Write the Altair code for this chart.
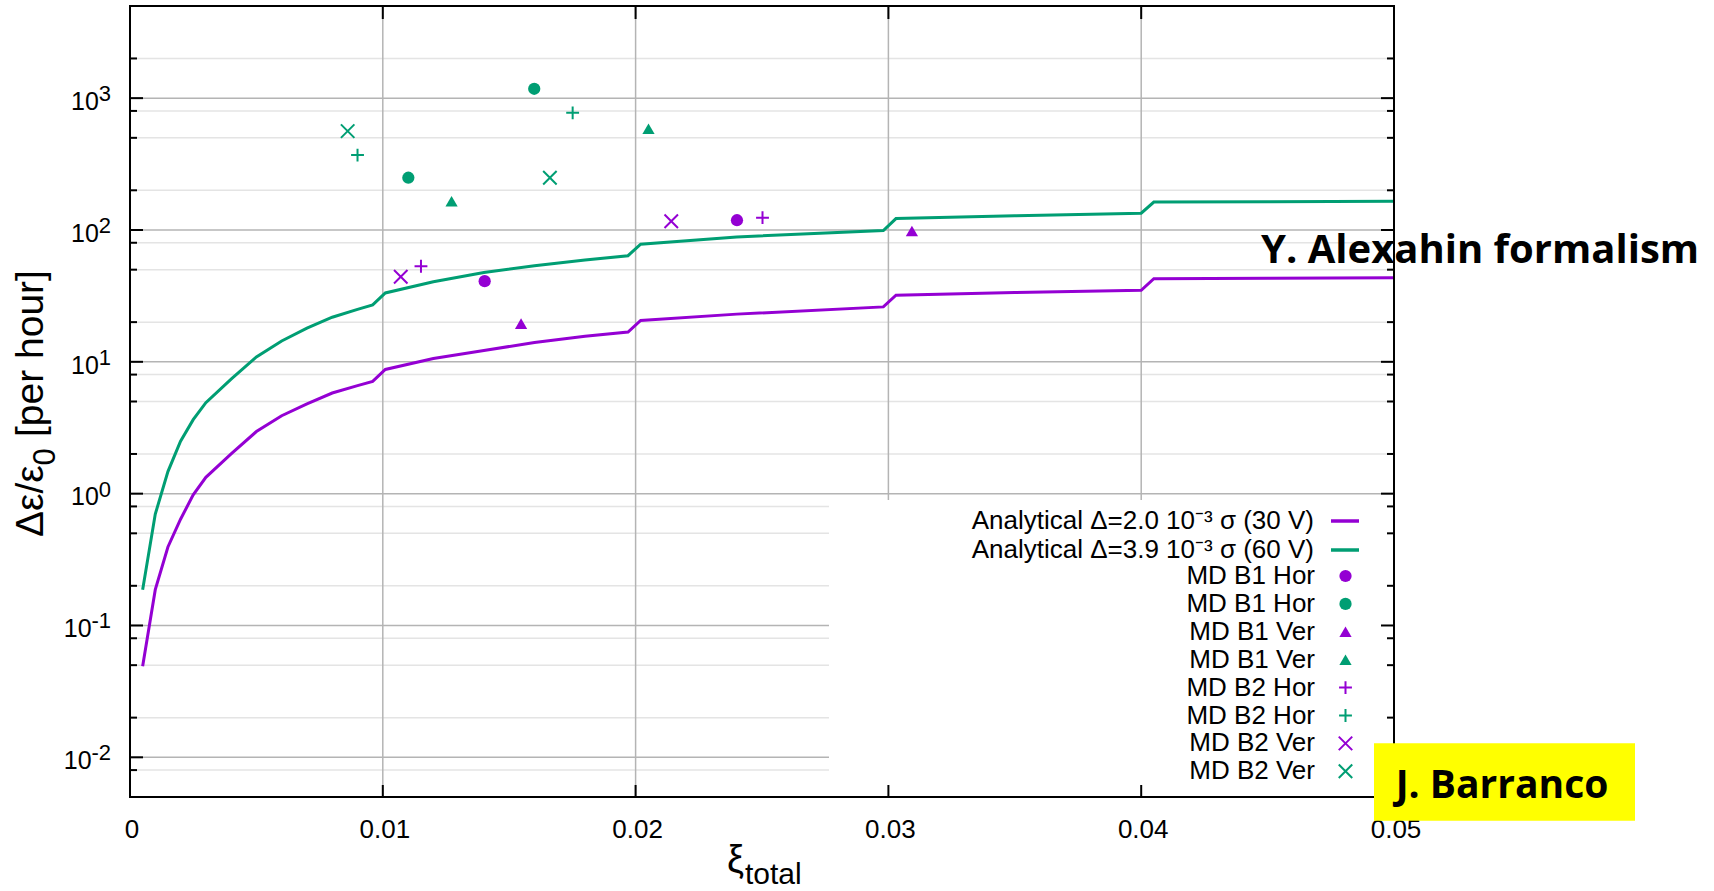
import altair as alt
import pandas as pd

# ---------------- values ----------------
# analytical curves
curve_x = [0.0005, 0.001, 0.0015, 0.002, 0.0025, 0.003, 0.004, 0.005, 0.006, 0.007,
           0.008, 0.009, 0.0096, 0.0101, 0.012, 0.014, 0.016, 0.018, 0.0197, 0.0202,
           0.024, 0.0298, 0.0303, 0.035, 0.0400, 0.0405, 0.045, 0.050]
curve_30v = [0.049, 0.187, 0.394, 0.64, 0.98, 1.33, 2.0, 2.96, 3.9, 4.8,
             5.8, 6.6, 7.1, 8.75, 10.6, 12.2, 14.0, 15.6, 16.8, 20.6,
             23.0, 26.1, 32.0, 33.5, 34.9, 42.7, 43.0, 43.4]
curve_60v = [0.187, 0.70, 1.47, 2.5, 3.64, 4.9, 7.4, 10.9, 14.4, 18.0,
             21.8, 25.0, 27.0, 33.3, 40.5, 47.6, 53.5, 59.3, 63.8, 78.0,
             88.5, 99.0, 122.0, 128.0, 134.0, 163.0, 164.0, 165.0]
curve_names = ["Analytical \u0394=2.0 10\u207b\u00b3 \u03c3 (30 V)",
               "Analytical \u0394=3.9 10\u207b\u00b3 \u03c3 (60 V)"]

# MD measurements (label|variant)
md_keys = ["MD B1 Hor|1", "MD B1 Hor|2", "MD B1 Ver|1", "MD B1 Ver|2",
           "MD B2 Hor|1", "MD B2 Hor|2", "MD B2 Ver|1", "MD B2 Ver|2"]
md_x = [[0.01403, 0.02401], [0.01101, 0.01599], [0.01547, 0.03093], [0.01272, 0.02051],
        [0.01151, 0.02502], [0.00900, 0.01751], [0.01071, 0.02141], [0.00861, 0.01661]]
md_y = [[40.9, 118.6], [249.0, 1178.0], [19.5, 98.3], [165.0, 586.0],
        [53.1, 124.0], [370.0, 774.0], [44.2, 116.6], [562.0, 249.0]]

# axes
x_ticks = [0, 0.01, 0.02, 0.03, 0.04, 0.05]
x_tick_labels = ["0", "0.01", "0.02", "0.03", "0.04", "0.05"]
x_grid = [0.01, 0.02, 0.03, 0.04]
y_decades = [0.01, 0.1, 1, 10, 100, 1000]
y_exponents = ["-2", "-1", "0", "1", "2", "3"]
y_minor = [0.008, 0.02, 0.05, 0.08, 0.2, 0.5, 0.8, 2, 5, 8, 20, 50, 80,
           200, 500, 800, 2000]

# ---------------- styling ----------------
W, H = 1264, 791
PURPLE, GREEN = "#9400D3", "#009E73"
FONT = "Liberation Sans"
BOLD = "Open Sans"
PLUS = "M-1.05,0L1.05,0M0,-1.05L0,1.05"
CROSS = "M-1.1,-1.1L1.1,1.1M-1.1,1.1L1.1,-1.1"

xscale = alt.Scale(domain=[0, 0.05], nice=False, zero=False)
yscale = alt.Scale(type="log", domain=[0.005, 5000], nice=False)

n = len(curve_x)
curve_df = pd.DataFrame({
    "x": curve_x + curve_x,
    "y": curve_30v + curve_60v,
    "curve": [curve_names[0]] * n + [curve_names[1]] * n,
})
md_rows = []
for k, xs, ys in zip(md_keys, md_x, md_y):
    for a, b in zip(xs, ys):
        md_rows.append({"x": a, "y": b, "series": k})
md_df = pd.DataFrame(md_rows)

one = pd.DataFrame({"a": [0]})


def yrule(vals, color, w, x0=None, x1=None):
    enc = {"y": alt.Y("v:Q", scale=yscale, axis=None)}
    if x0 is not None:
        enc["x"] = alt.value(x0)
        enc["x2"] = alt.value(x1)
    return alt.Chart(pd.DataFrame({"v": vals})).mark_rule(color=color, strokeWidth=w).encode(**enc)


def xrule(vals, color, w, y0=None, y1=None):
    enc = {"x": alt.X("v:Q", scale=xscale, axis=None)}
    if y0 is not None:
        enc["y"] = alt.value(y0)
        enc["y2"] = alt.value(y1)
    return alt.Chart(pd.DataFrame({"v": vals})).mark_rule(color=color, strokeWidth=w).encode(**enc)


def text(t, x, y, size, font=FONT, **kw):
    return alt.Chart(pd.DataFrame({"t": [t]})).mark_text(
        font=font, fontSize=size, color="black", **kw
    ).encode(text="t:N", x=alt.value(x), y=alt.value(y))


grid_minor = yrule(y_minor, "#e4e4e4", 1.5)
grid_major = yrule(y_decades, "#b4b4b4", 1.5)
grid_x = xrule(x_grid, "#b4b4b4", 1.5)

legend_box = alt.Chart(one).mark_rect(fill="white").encode(
    x=alt.value(699), x2=alt.value(W - 1), y=alt.value(494), y2=alt.value(H - 1))

lines = alt.Chart(curve_df).mark_line(strokeWidth=3).encode(
    x=alt.X("x:Q", scale=xscale, axis=None),
    y=alt.Y("y:Q", scale=yscale, axis=None),
    color=alt.Color("curve:N", scale=alt.Scale(domain=curve_names, range=[PURPLE, GREEN]),
                    legend=alt.Legend(
                        orient="none", legendX=1199, legendY=499, title=None,
                        symbolType="stroke", symbolStrokeWidth=3.5, symbolSize=784,
                        labelAlign="right", labelOffset={"expr": "-47"}, labelLimit=600,
                        labelFont=FONT, labelFontSize=26, labelColor="black",
                        rowPadding=0, padding=0)),
)

pt_legend = alt.Legend(
    orient="none", legendX=1202.5, legendY=557, title=None,
    labelExpr="split(datum.value, '|')[0]", symbolSize=150, symbolStrokeWidth=2,
    labelAlign="right", labelOffset={"expr": "-43.5"}, labelLimit=600,
    labelFont=FONT, labelFontSize=26, labelColor="black", rowPadding=1.9, padding=0)

points = alt.Chart(md_df).mark_point(size=150, strokeWidth=2, opacity=1).encode(
    x=alt.X("x:Q", scale=xscale, axis=None),
    y=alt.Y("y:Q", scale=yscale, axis=None),
    shape=alt.Shape("series:N", scale=alt.Scale(
        domain=md_keys,
        range=["circle", "circle", "triangle-up", "triangle-up", PLUS, PLUS, CROSS, CROSS]),
        legend=pt_legend),
    fill=alt.Fill("series:N", scale=alt.Scale(
        domain=md_keys,
        range=[PURPLE, GREEN, PURPLE, GREEN, "transparent", "transparent", "transparent", "transparent"]),
        legend=pt_legend),
    stroke=alt.Stroke("series:N", scale=alt.Scale(
        domain=md_keys,
        range=["transparent", "transparent", "transparent", "transparent", PURPLE, GREEN, PURPLE, GREEN]),
        legend=pt_legend),
)

ticks = [
    yrule(y_decades, "black", 2, 0, 13),
    yrule(y_minor, "black", 2, 0, 7),
    yrule(y_decades, "black", 2, W - 13, W),
    yrule(y_minor, "black", 2, W - 7, W),
    xrule(x_grid, "black", 2, 0, 13),
    xrule(x_grid, "black", 2, H - 12, H),
]

frame = alt.Chart(one).mark_rect(fill="transparent", stroke="black", strokeWidth=2).encode(
    x=alt.value(0), x2=alt.value(W), y=alt.value(0), y2=alt.value(H))

# tick labels (positioned through the scales)
xlab = alt.Chart(pd.DataFrame({"v": x_ticks, "lab": x_tick_labels})).mark_text(
    align="center", baseline="alphabetic", font=FONT, fontSize=26, color="black", dx=2
).encode(x=alt.X("v:Q", scale=xscale, axis=None), y=alt.value(838 - 6), text="lab:N")

ydf = pd.DataFrame({"v": y_decades, "e": y_exponents})
ten_pos = alt.Chart(ydf).transform_filter("datum.v >= 1").mark_text(
    align="right", baseline="alphabetic", font=FONT, fontSize=25, color="black", dy=11.8
).encode(y=alt.Y("v:Q", scale=yscale, axis=None), x=alt.value(-31.2), text=alt.value("10"))
ten_neg = alt.Chart(ydf).transform_filter("datum.v < 1").mark_text(
    align="right", baseline="alphabetic", font=FONT, fontSize=25, color="black", dy=11.8
).encode(y=alt.Y("v:Q", scale=yscale, axis=None), x=alt.value(-38.4), text=alt.value("10"))
exps = alt.Chart(ydf).mark_text(
    align="right", baseline="alphabetic", font=FONT, fontSize=22, color="black", dy=3
).encode(y=alt.Y("v:Q", scale=yscale, axis=None), x=alt.value(-19), text="e:N")

titles = [
    text("\u0394\u03b5/\u03b5", -87.3, 531, 39, angle=270, align="left", baseline="alphabetic"),
    text("0", -75, 459.5, 31, angle=270, align="left", baseline="alphabetic"),
    text("[per hour]", -87.3, 431, 39, angle=270, align="left", baseline="alphabetic"),
    text("\u03be", 614, 866, 38, align="right", baseline="alphabetic"),
    text("total", 615, 878, 30, align="left", baseline="alphabetic"),
    text("Y. Alexahin formalism", 1350, 257, 40, font=BOLD, fontWeight="bold",
         align="center", baseline="alphabetic"),
]

yellow = alt.Chart(one).mark_rect(fill="#FFFF00").encode(
    x=alt.value(1244), x2=alt.value(1505), y=alt.value(737.3), y2=alt.value(814.7))
author = text("J. Barranco", 1372, 792, 39, font=BOLD, fontWeight="bold",
              align="center", baseline="alphabetic")

chart = alt.layer(
    grid_minor, grid_major, grid_x, legend_box, lines, points, *ticks, frame,
    xlab, ten_pos, ten_neg, exps, *titles, yellow, author
).properties(
    width=W, height=H,
    padding={"left": 130, "top": 6, "right": 320, "bottom": 94},
    autosize=alt.AutoSizeParams(type="none"),
).configure_view(strokeWidth=0).configure(background="white")

chart.save("out.html", embed_options={"renderer": "svg", "actions": False})
